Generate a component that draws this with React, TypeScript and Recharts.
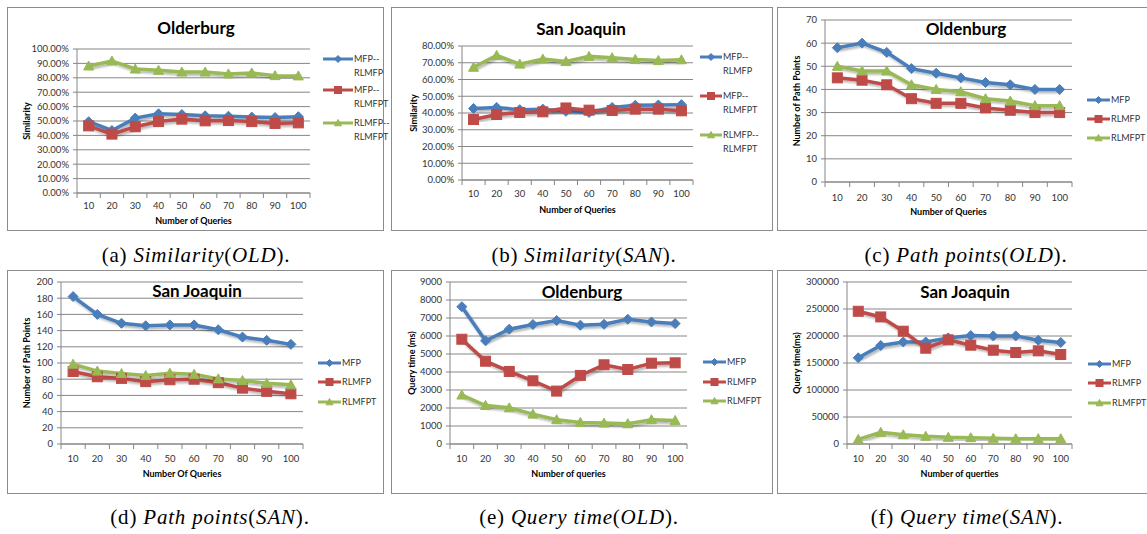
import { CartesianGrid, Line, LineChart, XAxis, YAxis } from "recharts";

const queries = [10, 20, 30, 40, 50, 60, 70, 80, 90, 100];

// (a) similarity, Oldenburg (percent)
const simOldMfpRlmfp = [49.5, 43.4, 52, 55, 54.5, 53.6, 53.3, 52.7, 52.4, 53];
const simOldMfpRlmfpt = [46.6, 40.9, 46, 49.6, 51.3, 50.1, 50.3, 49.6, 48.3, 48.7];
const simOldRlmfpRlmfpt = [88.2, 91.7, 86.1, 85.2, 84, 84, 82.7, 83.4, 81.5, 81.3];

// (b) similarity, San Joaquin (percent)
const simSanMfpRlmfp = [42.7, 43.3, 42, 42.3, 41, 40.3, 43.3, 44.6, 44.8, 45];
const simSanMfpRlmfpt = [36.1, 39.1, 40.3, 40.7, 43, 41.7, 41.5, 42.3, 42.3, 41.3];
const simSanRlmfpRlmfpt = [67.3, 74.4, 69.2, 72.2, 70.8, 73.8, 73, 72, 71.4, 71.8];

// (c) path points, Oldenburg
const ptsOldMfp = [58, 60, 56, 49, 47, 45, 43, 42, 40, 40];
const ptsOldRlmfp = [45, 44, 42, 36, 34, 34, 32, 31, 30, 30];
const ptsOldRlmfpt = [50, 48, 48, 42, 40, 39, 36, 35, 33, 33];

// (d) path points, San Joaquin
const ptsSanMfp = [182, 160, 149, 146, 147, 147, 141, 132, 128, 123];
const ptsSanRlmfp = [89.5, 83, 81, 77, 79.4, 80, 75.7, 69, 65, 62];
const ptsSanRlmfpt = [98.6, 90, 87, 84.5, 87.4, 86, 80.4, 78.4, 75, 73];

// (e) query time, Oldenburg (ms)
const timeOldMfp = [7630, 5730, 6380, 6640, 6860, 6600, 6650, 6930, 6780, 6690];
const timeOldRlmfp = [5820, 4600, 4030, 3510, 2940, 3810, 4400, 4140, 4490, 4510];
const timeOldRlmfpt = [2720, 2140, 2010, 1660, 1350, 1200, 1160, 1130, 1350, 1310];

// (f) query time, San Joaquin (ms)
const timeSanMfp = [159600, 182400, 189000, 189000, 196500, 200800, 200200, 200200, 192200, 188000];
const timeSanRlmfp = [245800, 235300, 208900, 177400, 192800, 183000, 173700, 169400, 172500, 165700];
const timeSanRlmfpt = [8600, 21600, 17200, 14200, 12300, 11700, 10500, 9900, 9900, 9900];

const BLUE = "#4a7ebb";
const RED = "#be4b48";
const GREEN = "#98b954";
const FONT = "Lato, 'Open Sans', sans-serif";
const AXIS = "#868686";

const COLORS = [BLUE, RED, GREEN];

function marker(kind: number, cx: number, cy: number, r: number, key?: string) {
	if (kind === 0) {
		return (
			<path
				key={key}
				d={`M${cx},${cy - r}L${cx + r},${cy}L${cx},${cy + r}L${cx - r},${cy}Z`}
				fill={BLUE}
				stroke={BLUE}
			/>
		);
	}
	if (kind === 1) {
		return <rect key={key} x={cx - r} y={cy - r} width={2 * r} height={2 * r} fill={RED} stroke={RED} />;
	}
	return (
		<path
			key={key}
			d={`M${cx},${cy - r}L${cx + r},${cy + r * 0.8}L${cx - r},${cy + r * 0.8}Z`}
			fill={GREEN}
			stroke={GREEN}
		/>
	);
}

type Panel = {
	box: [number, number, number, number];
	plot: [number, number, number, number];
	title: string;
	titleAt: [number, number];
	yLabel: string;
	yLabelX: number;
	xLabel: string;
	xLabelY: number;
	tickY: number;
	yMax: number;
	yStep: number;
	percent?: boolean;
	names: string[];
	values: number[][];
	legendX: number;
	legendLen: number;
	legendYs: number[];
};

const panels: Panel[] = [
	{
		box: [7, 7, 377, 224],
		plot: [77, 49, 310, 193],
		title: "Olderburg",
		titleAt: [196, 28],
		yLabel: "Similarity",
		yLabelX: 27,
		xLabel: "Number of Queries",
		xLabelY: 221,
		tickY: 205,
		yMax: 100,
		yStep: 10,
		percent: true,
		names: ["MFP--\nRLMFP", "MFP--\nRLMFPT", "RLMFP--\nRLMFPT"],
		values: [simOldMfpRlmfp, simOldMfpRlmfpt, simOldRlmfpRlmfpt],
		legendX: 323,
		legendLen: 30,
		legendYs: [59, 90, 123],
	},
	{
		box: [391, 7, 382, 224],
		plot: [462, 46, 693, 180],
		title: "San Joaquin",
		titleAt: [581, 29],
		yLabel: "Similarity",
		yLabelX: 414,
		xLabel: "Number of Queries",
		xLabelY: 210,
		tickY: 193,
		yMax: 80,
		yStep: 10,
		percent: true,
		names: ["MFP--\nRLMFP", "MFP--\nRLMFPT", "RLMFP--\nRLMFPT"],
		values: [simSanMfpRlmfp, simSanMfpRlmfpt, simSanRlmfpRlmfpt],
		legendX: 700,
		legendLen: 22,
		legendYs: [57, 96, 135],
	},
	{
		box: [777, 7, 372, 224],
		plot: [825, 20, 1072, 182],
		title: "Oldenburg",
		titleAt: [966, 29],
		yLabel: "Number of Path Points",
		yLabelX: 797,
		xLabel: "Number of Queries",
		xLabelY: 212,
		tickY: 197,
		yMax: 70,
		yStep: 10,
		names: ["MFP", "RLMFP", "RLMFPT"],
		values: [ptsOldMfp, ptsOldRlmfp, ptsOldRlmfpt],
		legendX: 1087,
		legendLen: 23,
		legendYs: [100, 119, 138],
	},
	{
		box: [7, 270, 377, 224],
		plot: [61, 282, 303, 444],
		title: "San Joaquin",
		titleAt: [197, 291],
		yLabel: "Number of Path Points",
		yLabelX: 27,
		xLabel: "Number Of Queries",
		xLabelY: 474,
		tickY: 458,
		yMax: 200,
		yStep: 20,
		names: ["MFP", "RLMFP", "RLMFPT"],
		values: [ptsSanMfp, ptsSanRlmfp, ptsSanRlmfpt],
		legendX: 318,
		legendLen: 23,
		legendYs: [363, 382, 402],
	},
	{
		box: [391, 270, 382, 224],
		plot: [450, 282, 687, 444],
		title: "Oldenburg",
		titleAt: [582, 292],
		yLabel: "Query time (ms)",
		yLabelX: 412,
		xLabel: "Number of queries",
		xLabelY: 474,
		tickY: 458,
		yMax: 9000,
		yStep: 1000,
		names: ["MFP", "RLMFP", "RLMFPT"],
		values: [timeOldMfp, timeOldRlmfp, timeOldRlmfpt],
		legendX: 703,
		legendLen: 23,
		legendYs: [362, 382, 401],
	},
	{
		box: [777, 270, 372, 224],
		plot: [847, 282, 1072, 444],
		title: "San Joaquin",
		titleAt: [965, 292],
		yLabel: "Query time(ms)",
		yLabelX: 797,
		xLabel: "Number of querties",
		xLabelY: 474,
		tickY: 458,
		yMax: 300000,
		yStep: 50000,
		names: ["MFP", "RLMFP", "RLMFPT"],
		values: [timeSanMfp, timeSanRlmfp, timeSanRlmfpt],
		legendX: 1088,
		legendLen: 23,
		legendYs: [364, 383, 403],
	},
];

const captions = [
	{ tag: "(a)", what: "Similarity", where: "OLD", x: 196, y: 255 },
	{ tag: "(b)", what: "Similarity", where: "SAN", x: 584, y: 255 },
	{ tag: "(c)", what: "Path points", where: "OLD", x: 966, y: 255 },
	{ tag: "(d)", what: "Path points", where: "SAN", x: 210, y: 517 },
	{ tag: "(e)", what: "Query time", where: "OLD", x: 579, y: 517 },
	{ tag: "(f)", what: "Query time", where: "SAN", x: 967, y: 517 },
];

function ChartPanel({ p }: { p: Panel }) {
	const [bx, by, bw, bh] = p.box;
	const [pl, pt, pr, pb] = p.plot;
	const band = (pr - pl) / queries.length;
	const rows = queries.map((q, i) => ({
		q,
		s0: p.values[0][i],
		s1: p.values[1][i],
		s2: p.values[2][i],
	}));
	const ticks: number[] = [];
	for (let v = 0; v <= p.yMax; v += p.yStep) ticks.push(v);
	const axisY = pb - by;

	const XTick = (props: any) => {
		const { x, payload, index } = props;
		return (
			<g>
				<line x1={x - band / 2} x2={x - band / 2} y1={axisY} y2={axisY + 5} stroke={AXIS} />
				{index === queries.length - 1 && (
					<line x1={x + band / 2} x2={x + band / 2} y1={axisY} y2={axisY + 5} stroke={AXIS} />
				)}
				<text
					x={x}
					y={p.tickY - by}
					textAnchor="middle"
					dominantBaseline="central"
					fontSize={9.5}
					fontFamily={FONT}
					fill="#333"
				>
					{payload.value}
				</text>
			</g>
		);
	};

	return (
		<>
			<div
				style={{
					position: "absolute",
					left: bx,
					top: by,
					width: bw,
					height: bh,
					border: "1px solid #8c8c8c",
					boxSizing: "border-box",
					background: "#fff",
				}}
			/>
			<div style={{ position: "absolute", left: bx, top: by }}>
				<LineChart
					width={bw}
					height={bh}
					data={rows}
					margin={{ top: pt - by, right: bx + bw - pr, left: 0, bottom: 0 }}
				>
					<CartesianGrid vertical={false} stroke={AXIS} />
					<XAxis
						dataKey="q"
						height={by + bh - pb}
						padding={{ left: band / 2, right: band / 2 }}
						tickLine={false}
						axisLine={{ stroke: AXIS }}
						tick={XTick}
						interval={0}
					/>
					<YAxis
						width={pl - bx}
						domain={[0, p.yMax]}
						ticks={ticks}
						interval={0}
						tickSize={4}
						tickMargin={4}
						tickLine={{ stroke: AXIS }}
						axisLine={{ stroke: AXIS }}
						tick={{ fontSize: 9.5, fontFamily: FONT, fill: "#333" }}
						tickFormatter={(v: number) => (p.percent ? `${v.toFixed(2)}%` : String(v))}
					/>
					{[0, 1, 2].map((k) => (
						<Line
							key={k}
							type="linear"
							dataKey={`s${k}`}
							stroke={COLORS[k]}
							strokeWidth={3.5}
							style={{ filter: "url(#shade)" }}
							dot={(d: any) => marker(k, d.cx, d.cy, 5, `m${k}-${d.index}`)}
							activeDot={false}
							isAnimationActive={false}
						/>
					))}
				</LineChart>
			</div>
			<div
				style={{
					position: "absolute",
					left: p.titleAt[0] - 100,
					top: p.titleAt[1] - 11,
					width: 200,
					textAlign: "center",
					fontFamily: FONT,
					fontWeight: 700,
					fontSize: 17,
					lineHeight: "22px",
					color: "#000",
				}}
			>
				{p.title}
			</div>
			<div
				style={{
					position: "absolute",
					left: p.yLabelX - 100,
					top: (pt + pb) / 2 - 7,
					width: 200,
					height: 14,
					lineHeight: "14px",
					textAlign: "center",
					transform: "rotate(-90deg)",
					fontFamily: FONT,
					fontWeight: 700,
					fontSize: 9,
					color: "#000",
				}}
			>
				{p.yLabel}
			</div>
			<div
				style={{
					position: "absolute",
					left: (pl + pr) / 2 - 100,
					top: p.xLabelY - 7,
					width: 200,
					lineHeight: "14px",
					textAlign: "center",
					fontFamily: FONT,
					fontWeight: 700,
					fontSize: 9,
					color: "#000",
				}}
			>
				{p.xLabel}
			</div>
			{p.names.map((name, k) => (
				<div
					key={name + k}
					style={{
						position: "absolute",
						left: p.legendX,
						top: p.legendYs[k] - 7,
						display: "flex",
						alignItems: "flex-start",
					}}
				>
					<svg width={p.legendLen + 1} height={14} style={{ display: "block" }}>
						<line x1={0} x2={p.legendLen} y1={7} y2={7} stroke={COLORS[k]} strokeWidth={3} />
						{marker(k, p.legendLen / 2, 7, 3.5)}
					</svg>
					<div
						style={{
							fontFamily: FONT,
							fontSize: 9,
							lineHeight: "13.5px",
							color: "#333",
							whiteSpace: "pre",
						}}
					>
						{name}
					</div>
				</div>
			))}
		</>
	);
}

export default function App() {
	return (
		<div
			style={{
				position: "absolute",
				left: 0,
				top: 0,
				width: 1147,
				height: 534,
				background: "#fff",
				overflow: "hidden",
			}}
		>
			<svg width={0} height={0} style={{ position: "absolute" }}>
				<defs>
					<filter id="shade" x="-10%" y="-10%" width="120%" height="130%">
						<feDropShadow dx={1.5} dy={2} stdDeviation={1.2} floodColor="#000" floodOpacity={0.3} />
					</filter>
				</defs>
			</svg>
			{panels.map((p, i) => (
				<ChartPanel key={i} p={p} />
			))}
			{captions.map((c) => (
				<div
					key={c.tag}
					style={{
						position: "absolute",
						left: c.x - 150,
						top: c.y - 13,
						width: 300,
						textAlign: "center",
						fontFamily: "'Liberation Serif', 'DejaVu Serif', serif",
						fontSize: 21,
						letterSpacing: 0.8,
						lineHeight: "26px",
						color: "#000",
					}}
				>
					{c.tag} <i>{c.what}</i>(<i>{c.where}</i>).
				</div>
			))}
		</div>
	);
}
